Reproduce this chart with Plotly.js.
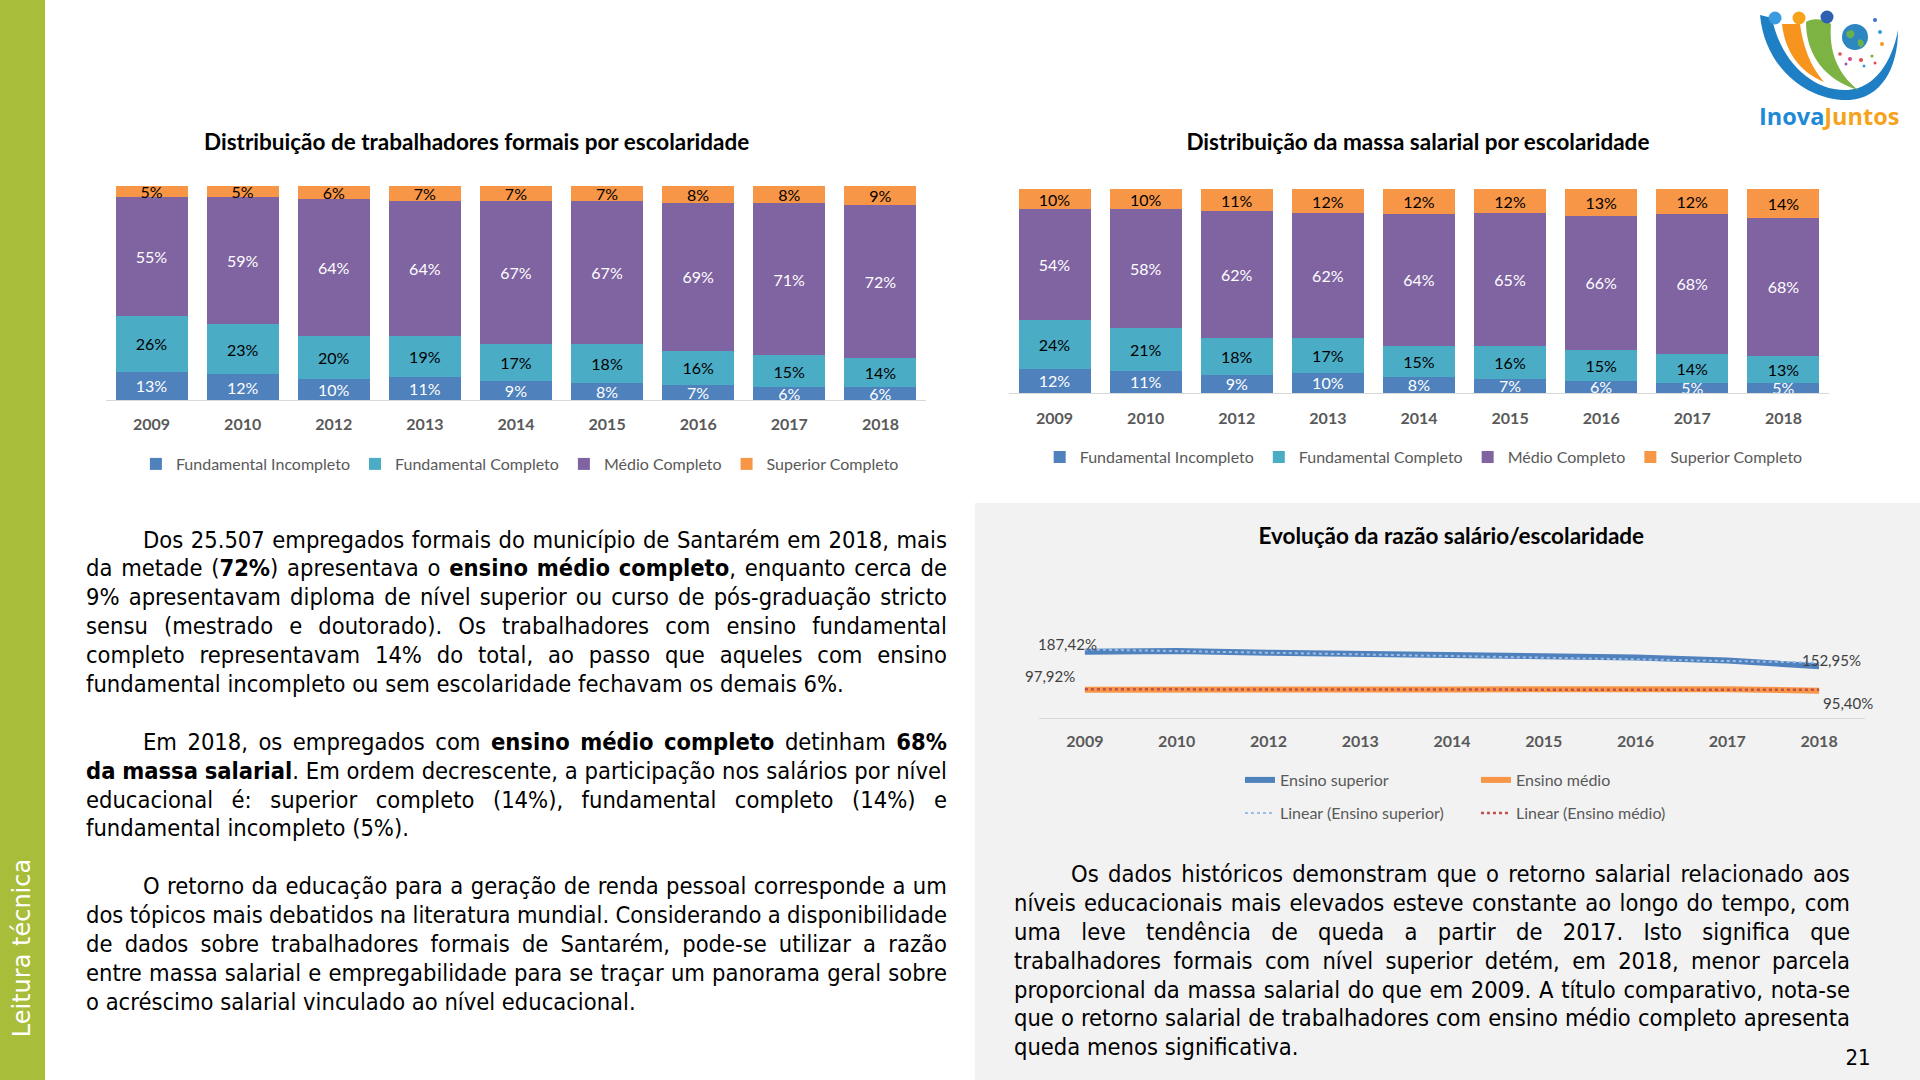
<!DOCTYPE html>
<html><head><meta charset="utf-8">
<script src="https://cdn.plot.ly/plotly-3.0.1.min.js"></script>
<style>
html,body{margin:0;padding:0;}
body{width:1920px;height:1080px;position:relative;overflow:hidden;background:#fff;}
#greenbar{position:absolute;left:0;top:0;width:45px;height:1080px;background:#a8bd3a;}
#vtext{position:absolute;left:22px;top:948px;transform:translate(-50%,-50%) rotate(-90deg);color:#fff;font-family:'DejaVu Sans';font-size:24px;white-space:nowrap;}
#gray{position:absolute;left:975px;top:503px;width:945px;height:577px;background:#f2f2f2;}
.chart{position:absolute;}
.block{position:absolute;font-family:'DejaVu Sans Condensed';font-size:23.5px;color:#000;}
.ln{height:28.9px;line-height:28.9px;white-space:pre;}
.j{display:flex;justify-content:space-between;}
#pnum{position:absolute;left:1858px;top:1057px;transform:translate(-50%,-50%);font-family:'DejaVu Sans Condensed';font-size:22px;color:#000;}
#logo{position:absolute;left:1740px;top:0px;}
</style>
</head>
<body>
<div id="greenbar"></div>
<div id="vtext">Leitura técnica</div>
<div id="gray"></div>
<div id="chart1" class="chart" style="left:60px;top:110px;width:900px;height:380px;"></div>
<div id="chart2" class="chart" style="left:960px;top:110px;width:960px;height:380px;"></div>
<div id="chart3" class="chart" style="left:975px;top:503px;width:945px;height:577px;"></div>
<div id="leftText" class="block" style="left:86px;top:525.5px;width:861px;"></div>
<div id="rightText" class="block" style="left:1014px;top:860px;width:836px;"></div>
<div id="pnum">21</div>
<svg id="logo" width="180" height="140" viewBox="0 0 180 140">
  <path d="M20,15 C25,70 70,102 110,100 C140,98 158,70 158,30 C152,62 135,88 108,90 C72,92 40,60 32,18 Z" fill="#1f7fc4"/>
  <path d="M42,24 C45,52 60,72 84,82 C70,66 63,46 60,24 Z" fill="#f7941d"/>
  <path d="M66,22 C66,56 86,80 118,90 C96,72 89,50 91,24 C83,18 72,18 66,22 Z" fill="#7cb342"/>
  <circle cx="35" cy="18" r="6.5" fill="#3a9be0"/>
  <circle cx="59" cy="18" r="6.5" fill="#f7a21b"/>
  <circle cx="87" cy="17" r="6.5" fill="#2f5fb3"/>
  <circle cx="115" cy="37" r="13" fill="#2e86c1"/>
  <path d="M106,33 C110,28 116,30 114,36 C111,40 107,39 106,33 Z" fill="#6ab04c"/>
  <path d="M118,40 C123,38 126,43 122,47 C119,48 117,44 118,40 Z" fill="#6ab04c"/>
  <circle cx="135" cy="20" r="2" fill="#3a6fd0"/><circle cx="140" cy="32" r="2" fill="#3a9be0"/>
  <circle cx="142" cy="44" r="2" fill="#f7941d"/><circle cx="100" cy="54" r="1.8" fill="#e04a4a"/>
  <circle cx="110" cy="59" r="2" fill="#d04a8a"/><circle cx="121" cy="60" r="2" fill="#e04a4a"/>
  <circle cx="132" cy="56" r="1.6" fill="#7cb342"/><circle cx="106" cy="64" r="1.5" fill="#9b59b6"/>
  <circle cx="135" cy="63" r="1.5" fill="#e04a4a"/><circle cx="124" cy="66" r="1.5" fill="#3a9be0"/>
  <text x="19" y="125" font-family="Open Sans" font-weight="bold" font-size="23.5"><tspan fill="#1e8ad6">Inova</tspan><tspan fill="#f7a21b">Juntos</tspan></text>
</svg>
<script>
// ---------- DATA ----------
const years = ['2009','2010','2012','2013','2014','2015','2016','2017','2018'];
const seriesNames = ['Fundamental Incompleto','Fundamental Completo','Médio Completo','Superior Completo'];

// Distribuição de trabalhadores formais por escolaridade (%)
const trabFundIncompleto = [13,12,10,11,9,8,7,6,6];
const trabFundCompleto   = [26,23,20,19,17,18,16,15,14];
const trabMedioCompleto  = [55,59,64,64,67,67,69,71,72];
const trabSupCompleto    = [5,5,6,7,7,7,8,8,9];

// Distribuição da massa salarial por escolaridade (%)
const massaFundIncompleto = [12,11,9,10,8,7,6,5,5];
const massaFundCompleto   = [24,21,18,17,15,16,15,14,13];
const massaMedioCompleto  = [54,58,62,62,64,65,66,68,68];
const massaSupCompleto    = [10,10,11,12,12,12,13,12,14];

// Evolução da razão salário/escolaridade (%)
const razaoSuperior = [187.42,189.0,184.8,182.2,179.7,177.0,173.6,166.7,152.95];
const razaoMedio    = [97.92,99.0,98.8,98.3,98.7,99.1,98.0,99.3,95.40];
const lineNames = ['Ensino superior','Ensino médio','Linear (Ensino superior)','Linear (Ensino médio)'];

// ---------- STYLES ----------
const barColors = ['#4f81bd','#4bacc6','#8064a2','#f79646'];
const barTextColors = ['#ffffff','#000000','#ffffff','#000000'];
const FONT = 'Lato';
const GRAY = '#595959';
const cfg = {displayModeBar:false, staticPlot:true};

function barTraces(series){
  return series.map((v,i)=>({
    type:'bar', x:years, y:v, name:seriesNames[i],
    marker:{color:barColors[i]},
    text:v.map(d=>d+'%'), textposition:'inside', insidetextanchor:'middle',
    textangle:0, constraintext:'none',
    textfont:{family:FONT,size:16,color:barTextColors[i]},
    hoverinfo:'skip'
  }));
}
function barLayout(title, w, h, m, titleX, titleY, legX, legY, tlen){
  return {
    width:w, height:h, margin:Object.assign({autoexpand:false}, m),
    barmode:'stack', barnorm:'fraction', bargap:0.21,
    paper_bgcolor:'rgba(0,0,0,0)', plot_bgcolor:'rgba(0,0,0,0)',
    title:{text:'<b>'+title+'</b>', font:{family:FONT,size:22.5,color:'#000'},
      xref:'container', yref:'container', x:titleX, xanchor:'center', y:titleY, yanchor:'middle'},
    xaxis:{type:'category', showline:true, linecolor:'#d9d9d9', linewidth:1,
      ticks:'outside', ticklen:tlen, tickcolor:'rgba(0,0,0,0)',
      showgrid:false, tickfont:{family:FONT,size:16,color:GRAY,weight:'bold'}},
    yaxis:{visible:false, range:[0,1]},
    showlegend:true,
    legend:{orientation:'h', traceorder:'normal', xref:'container', yref:'container',
      x:legX, xanchor:'center', y:legY, yanchor:'middle',
      font:{family:FONT,size:16,color:GRAY}, bgcolor:'rgba(0,0,0,0)'}
  };
}

try {
Plotly.newPlot('chart1',
  barTraces([trabFundIncompleto,trabFundCompleto,trabMedioCompleto,trabSupCompleto]),
  barLayout('Distribuição de trabalhadores formais por escolaridade', 900, 380,
    {l:46,r:34,t:76,b:90}, 0.463, 1-32/380, 0.511, 1-354/380, 10), cfg);

Plotly.newPlot('chart2',
  barTraces([massaFundIncompleto,massaFundCompleto,massaMedioCompleto,massaSupCompleto]),
  barLayout('Distribuição da massa salarial por escolaridade', 960, 380,
    {l:49,r:91,t:79,b:97}, 0.477, 1-32/380, 0.483, 1-347/380, 11), cfg);
} catch(e) { console.log(e); }

// linear trend (least squares over category index, as the spreadsheet trendline)
function linearTrend(v){
  const n=v.length; let sx=0,sy=0,sxy=0,sxx=0;
  v.forEach((y,i)=>{sx+=i;sy+=y;sxy+=i*y;sxx+=i*i;});
  const b=(n*sxy-sx*sy)/(n*sxx-sx*sx), a=(sy-b*sx)/n;
  return v.map((_,i)=>a+b*i);
}
const fmt = v => v.toFixed(2).replace('.',',')+'%';

try {
const lineTraces = [
  {type:'scatter',mode:'lines',x:years,y:razaoSuperior,name:lineNames[0],
   line:{color:'#4f81bd',width:6},legend:'legend',hoverinfo:'skip'},
  {type:'scatter',mode:'lines',x:years,y:razaoMedio,name:lineNames[1],
   line:{color:'#f79646',width:6},legend:'legend',hoverinfo:'skip'},
  {type:'scatter',mode:'lines',x:years,y:linearTrend(razaoSuperior),name:lineNames[2],
   line:{color:'#9dbde6',width:2,dash:'dot'},legend:'legend2',hoverinfo:'skip'},
  {type:'scatter',mode:'lines',x:years,y:linearTrend(razaoMedio),name:lineNames[3],
   line:{color:'#c0504d',width:2.5,dash:'dot'},legend:'legend2',hoverinfo:'skip'}
];
const last = years.length-1;
const lblFont = {family:FONT,size:15,color:'#404040'};
function leg(y){ return {orientation:'h', x:0.2433, xanchor:'left', y:y, yanchor:'middle',
  entrywidth:191, entrywidthmode:'pixels', traceorder:'normal',
  font:{family:FONT,size:16,color:GRAY}, bgcolor:'rgba(0,0,0,0)'}; }
Plotly.newPlot('chart3', lineTraces, {
  width:945, height:577, margin:{l:64,r:55,t:57,b:362,autoexpand:false},
  paper_bgcolor:'#f2f2f2', plot_bgcolor:'#f2f2f2',
  title:{text:'<b>Evolução da razão salário/escolaridade</b>', font:{family:FONT,size:22.5,color:'#000'},
    xref:'container', yref:'container', x:0.504, xanchor:'center', y:1-33/577, yanchor:'middle'},
  xaxis:{type:'category', range:[-0.5,8.5], showline:true, linecolor:'#d9d9d9', linewidth:1,
    ticks:'outside', ticklen:9, tickcolor:'rgba(0,0,0,0)', showgrid:false,
    tickfont:{family:FONT,size:16,color:GRAY,weight:'bold'}},
  yaxis:{visible:false, range:[31.5,402.7]},
  showlegend:true,
  legend:leg(1-(277-57)/158),
  legend2:leg(1-(310-57)/158),
  annotations:[
    {x:0, y:razaoSuperior[0], text:fmt(razaoSuperior[0]), showarrow:false, xshift:-17, yshift:8, font:lblFont},
    {x:last, y:razaoSuperior[last], text:fmt(razaoSuperior[last]), showarrow:false, xshift:12, yshift:6, font:lblFont},
    {x:0, y:razaoMedio[0], text:fmt(razaoMedio[0]), showarrow:false, xshift:-35, yshift:14, font:lblFont},
    {x:last, y:razaoMedio[last], text:fmt(razaoMedio[last]), showarrow:false, xshift:29, yshift:-12, font:lblFont}
  ]
}, cfg);
} catch(e) { console.log(e); }

// ---------- TEXT ----------
const leftParas = [
 ["Dos 25.507 empregados formais do município de Santarém em 2018, mais",
  "da metade (*72%*) apresentava o *ensino médio completo*, enquanto cerca de",
  "9% apresentavam diploma de nível superior ou curso de pós-graduação stricto",
  "sensu (mestrado e doutorado). Os trabalhadores com ensino fundamental",
  "completo representavam 14% do total, ao passo que aqueles com ensino",
  "fundamental incompleto ou sem escolaridade fechavam os demais 6%."],
 ["Em 2018, os empregados com *ensino médio completo* detinham *68%*",
  "*da massa salarial*. Em ordem decrescente, a participação nos salários por nível",
  "educacional é: superior completo (14%), fundamental completo (14%) e",
  "fundamental incompleto (5%)."],
 ["O retorno da educação para a geração de renda pessoal corresponde a um",
  "dos tópicos mais debatidos na literatura mundial. Considerando a disponibilidade",
  "de dados sobre trabalhadores formais de Santarém, pode-se utilizar a razão",
  "entre massa salarial e empregabilidade para se traçar um panorama geral sobre",
  "o acréscimo salarial vinculado ao nível educacional."]
];
const rightParas = [
 ["Os dados históricos demonstram que o retorno salarial relacionado aos",
  "níveis educacionais mais elevados esteve constante ao longo do tempo, com",
  "uma leve tendência de queda a partir de 2017. Isto significa que",
  "trabalhadores formais com nível superior detém, em 2018, menor parcela",
  "proporcional da massa salarial do que em 2009. A título comparativo, nota-se",
  "que o retorno salarial de trabalhadores com ensino médio completo apresenta",
  "queda menos significativa."]
];
function wordsHTML(line){
  let bold=false;
  return line.split(' ').map(w=>{
    let h = bold?'<b>':'';
    for(const ch of w){
      if(ch==='*'){ h += bold?'</b>':'<b>'; bold=!bold; } else h+=ch;
    }
    if(bold) h+='</b>';
    return '<span>'+h+'</span>';
  });
}
function renderParas(el, paras){
  let html='';
  paras.forEach((p,pi)=>{
    if(pi>0) html+='<div class="ln"></div>';
    p.forEach((line,li)=>{
      const isLast = li===p.length-1;
      const ind = li===0 ? 'padding-left:57px;' : '';
      const w = wordsHTML(line);
      if(isLast) html+='<div class="ln" style="'+ind+'">'+w.join(' ')+'</div>';
      else html+='<div class="ln j" style="'+ind+'">'+w.join('')+'</div>';
    });
  });
  el.innerHTML=html;
}
renderParas(document.getElementById('leftText'), leftParas);
renderParas(document.getElementById('rightText'), rightParas);
</script>
</body></html>
